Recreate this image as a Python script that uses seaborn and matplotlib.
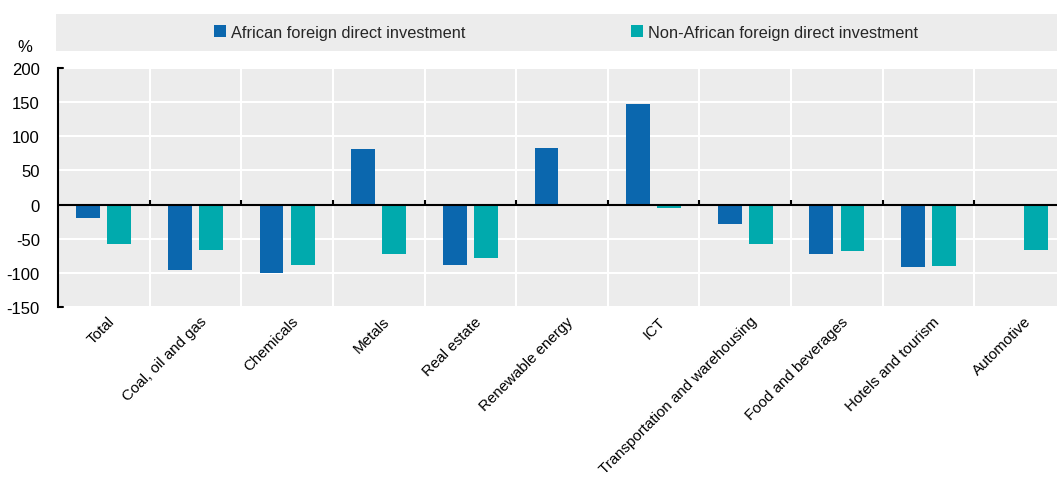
import numpy as np
import pandas as pd
import matplotlib
matplotlib.use("Agg")
import matplotlib.pyplot as plt
import seaborn as sns
from matplotlib.patches import Rectangle, Patch

categories = ["Total", "Coal, oil and gas", "Chemicals", "Metals", "Real estate",
              "Renewable energy", "ICT", "Transportation and warehousing",
              "Food and beverages", "Hotels and tourism", "Automotive"]
african = [-20, -96, -100, 81, -89, 83, 147, -28, -73, -91, np.nan]
non_african = [-58, -66, -89, -73, -78, -2, -5, -58, -68, -90, -67]
series_names = ["African foreign direct investment", "Non-African foreign direct investment"]
yticks = [-150, -100, -50, 0, 50, 100, 150, 200]

sns.set_theme(style="white")
plt.rcParams["font.family"] = ["Liberation Sans Narrow", "Liberation Sans", "DejaVu Sans"]

df = pd.DataFrame({
    "category": categories * 2,
    "value": african + non_african,
    "series": [series_names[0]] * len(categories) + [series_names[1]] * len(categories),
})

colors = ["#0b67ae", "#00aaad"]

fig = plt.figure(figsize=(10.57, 4.85), dpi=100)
W, H = 1057, 485
ax = fig.add_axes([58 / W, 1 - 308 / H, 1 - 58 / W, (308 - 69) / H])
ax.set_facecolor("#ececec")

sns.barplot(data=df, x="category", y="value", hue="series", palette=colors,
            width=0.68, gap=0.235, order=categories, hue_order=series_names,
            ax=ax, legend=False, saturation=1, edgecolor="none")

ax.set_xlim(-0.5, 10.5 - 9 / 91.7)
ax.set_ylim(-150, 200)
ax.set_yticks(yticks)
ax.set_yticklabels([str(v) for v in yticks], fontsize=12)
ax.set_xlabel("")
ax.set_ylabel("")

# grid
for y in yticks:
    ax.axhline(y, color="white", lw=1.5, zorder=0.5)
for x in np.arange(0.5, 10.5, 1):
    ax.axvline(x, color="white", lw=1.5, zorder=0.5)
ax.axhline(0, color="black", lw=1.5, zorder=3)
for x in np.arange(0.5, 10.5, 1):
    ax.plot([x, x], [0, 7], color="black", lw=1.5, zorder=3, solid_capstyle="butt")

for s in ["top", "right", "bottom"]:
    ax.spines[s].set_visible(False)
ax.spines["left"].set_color("black")
ax.spines["left"].set_linewidth(1.5)
ax.tick_params(axis="y", direction="in", length=0, pad=13, colors="black")
ax.plot([-0.5, -0.45], [200, 200], color="black", lw=1.5, clip_on=False)
ax.plot([-0.5, -0.45], [-150, -150], color="black", lw=1.5, clip_on=False)
for lbl in ax.get_yticklabels():
    lbl.set_color("black")

ax.set_xticks(range(len(categories)))
ax.set_xticklabels(categories, rotation=45, ha="right", rotation_mode="anchor",
                   fontsize=10.9, color="black")
ax.tick_params(axis="x", length=0, pad=5)
for lbl in ax.get_xticklabels():
    lbl.set_transform(lbl.get_transform() + matplotlib.transforms.ScaledTranslation(4 / 100, 0, fig.dpi_scale_trans))

# legend band
fig.patches.append(Rectangle((56 / W, 1 - 52 / H), 1 - 56 / W, 37 / H,
                             transform=fig.transFigure, facecolor="#ececec",
                             edgecolor="none", zorder=0))
handles = [Patch(facecolor=c, edgecolor="none") for c in colors]
fig.legend(handles, series_names, loc="center", bbox_to_anchor=(566 / W, 1 - 33.5 / H),
           ncol=2, frameon=False, fontsize=11.8, handlelength=0.75, handleheight=0.75,
           handletextpad=0.3, columnspacing=10.1, borderpad=0)

fig.text(25 / W, 1 - 48 / H, "%", ha="center", va="center", fontsize=12, color="black")

fig.savefig("out.png", dpi=100)
